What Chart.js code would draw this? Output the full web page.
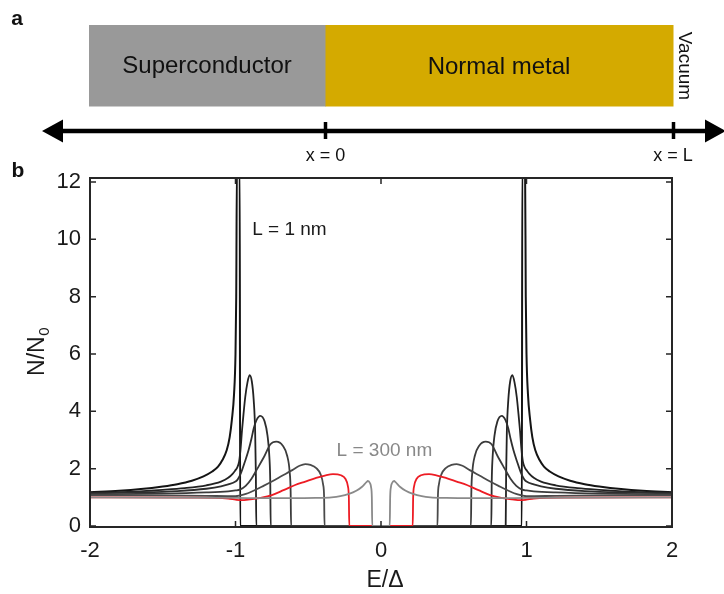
<!DOCTYPE html>
<html>
<head>
<meta charset="utf-8">
<title>N/N0 vs E/Δ</title>
<script src="https://cdn.jsdelivr.net/npm/chart.js@4.4.1/dist/chart.umd.min.js"></script>
<style>
  html, body { margin: 0; padding: 0; background: #fff; }
  #wrap { width: 724px; height: 594px; position: relative; }
</style>
</head>
<body>
<div id="wrap"><canvas id="dosChart"></canvas></div>
<script>
// tick values
const xTicks = [-2, -1, 0, 1, 2];
const yTicks = [0, 2, 4, 6, 8, 10, 12];

// density of states in the normal metal, E >= 0 half, [E/Δ, N/N0]
// (the curves are symmetric in E, the negative half is mirrored below)
const dosL1 = [[0, 0], [0.968, 0], [0.971, 12.6], [0.99, 12.6], [0.995, 8.0], [1.0, 6.0], [1.01, 4.6],
  [1.025, 3.7], [1.04, 3.1], [1.06, 2.65], [1.09, 2.3], [1.12, 2.07], [1.16, 1.9], [1.22, 1.73],
  [1.3, 1.58], [1.4, 1.46], [1.5, 1.38], [1.65, 1.29], [1.8, 1.23], [2.0, 1.18]];
const dosL2 = [[0, 0], [0.857, 0], [0.86, 1.8], [0.865, 3.3], [0.875, 4.4], [0.888, 5.05], [0.903, 5.26],
  [0.918, 5.0], [0.933, 4.5], [0.945, 3.9], [0.955, 3.35], [0.965, 2.7], [0.975, 2.25], [0.99, 2.02],
  [1.0, 1.95], [1.02, 1.82], [1.05, 1.68], [1.1, 1.55], [1.2, 1.42], [1.35, 1.32], [1.5, 1.26],
  [1.7, 1.2], [2.0, 1.16]];
const dosL3 = [[0, 0], [0.758, 0], [0.761, 1.5], [0.767, 2.4], [0.78, 3.15], [0.8, 3.65], [0.83, 3.84],
  [0.855, 3.7], [0.875, 3.4], [0.89, 3.05], [0.91, 2.65], [0.935, 2.25], [0.96, 1.88], [0.985, 1.62],
  [1.0, 1.55], [1.05, 1.45], [1.1, 1.38], [1.2, 1.3], [1.4, 1.22], [1.7, 1.17], [2.0, 1.14]];
const dosL4 = [[0, 0], [0.618, 0], [0.621, 1.2], [0.628, 1.9], [0.645, 2.45], [0.675, 2.8], [0.72, 2.94],
  [0.76, 2.85], [0.8, 2.45], [0.85, 2.0], [0.89, 1.65], [0.93, 1.4], [0.97, 1.27], [1.0, 1.24],
  [1.05, 1.21], [1.2, 1.17], [1.5, 1.13], [2.0, 1.11]];
const dosL5 = [[0, 0], [0.388, 0], [0.391, 1.0], [0.398, 1.45], [0.415, 1.8], [0.445, 2.02], [0.485, 2.13],
  [0.52, 2.16], [0.56, 2.1], [0.61, 1.95], [0.68, 1.75], [0.75, 1.55], [0.82, 1.37], [0.88, 1.22],
  [0.94, 1.1], [1.0, 1.04], [1.2, 1.05], [1.6, 1.07], [2.0, 1.08]];
const dosL6 = [[0, 0], [0.218, 0], [0.221, 1.0], [0.228, 1.4], [0.245, 1.65], [0.275, 1.77], [0.33, 1.81],
  [0.38, 1.77], [0.45, 1.67], [0.52, 1.55], [0.59, 1.43], [0.67, 1.25], [0.75, 1.08], [0.82, 0.99],
  [0.9, 0.93], [0.96, 0.9], [1.0, 0.92], [1.05, 0.96], [1.3, 0.99], [2.0, 1.0]];
const dosL300 = [[0, 0], [0.06, 0], [0.063, 1.0], [0.068, 1.35], [0.076, 1.5], [0.09, 1.57], [0.1, 1.53],
  [0.13, 1.37], [0.17, 1.23], [0.22, 1.12], [0.28, 1.04], [0.34, 1.0], [0.45, 0.98], [0.6, 0.97],
  [0.8, 0.97], [1.0, 0.98], [1.5, 0.99], [2.0, 1.0]];

const curves = [dosL1, dosL2, dosL3, dosL4, dosL5, dosL6, dosL300];
const curveNames = ['L = 1 nm', 'L2', 'L3', 'L4', 'L5', 'L6', 'L = 300 nm'];
const curveColors = ['#141414', '#222222', '#2e2e2e', '#3b3b3b', '#4a4a4a', '#ed1c24', '#8a8a8a'];

const FONT = '"Liberation Sans", Arial, Helvetica, sans-serif';

// full curve from -2 to 2
function mirrored(half) {
  const left = half.filter(p => p[0] > 0).reverse().map(p => ({ x: -p[0], y: p[1] }));
  return left.concat(half.map(p => ({ x: p[0], y: p[1] })));
}

// last curve on top
const datasets = curves.map((c, i) => ({
  label: curveNames[i],
  data: mirrored(c),
  borderColor: curveColors[i],
  borderWidth: i === 0 ? 2 : 1.8,
  pointRadius: 0,
  cubicInterpolationMode: 'monotone',
  fill: false,
  order: curves.length - 1 - i
}));

// panel a: the S / N / vacuum sketch, plus panel letters
const sketch = {
  id: 'sketch',
  beforeDraw(chart) {
    const ctx = chart.ctx;
    ctx.save();
    ctx.fillStyle = '#999999';
    ctx.fillRect(89, 25, 237, 81.5);
    ctx.fillStyle = '#d4aa00';
    ctx.fillRect(325.5, 25, 348, 81.5);

    ctx.fillStyle = '#111';
    ctx.textAlign = 'center';
    ctx.textBaseline = 'middle';
    ctx.font = '24px ' + FONT;
    ctx.fillText('Superconductor', 207, 66);
    ctx.fillText('Normal metal', 499, 67);

    ctx.save();
    ctx.translate(684, 66);
    ctx.rotate(Math.PI / 2);
    ctx.font = '19px ' + FONT;
    ctx.fillText('Vacuum', 0, 0);
    ctx.restore();

    // double arrow with the x = 0 and x = L marks
    ctx.strokeStyle = '#000';
    ctx.lineWidth = 4.5;
    ctx.beginPath();
    ctx.moveTo(58, 131);
    ctx.lineTo(710, 131);
    ctx.stroke();
    ctx.fillStyle = '#000';
    ctx.beginPath();
    ctx.moveTo(42, 131); ctx.lineTo(63, 119.5); ctx.lineTo(63, 142.5); ctx.closePath();
    ctx.moveTo(726, 131); ctx.lineTo(705, 119.5); ctx.lineTo(705, 142.5); ctx.closePath();
    ctx.fill();
    ctx.lineWidth = 3.5;
    ctx.beginPath();
    ctx.moveTo(325.5, 122); ctx.lineTo(325.5, 139);
    ctx.moveTo(673.5, 122); ctx.lineTo(673.5, 139);
    ctx.stroke();

    ctx.fillStyle = '#111';
    ctx.font = '18px ' + FONT;
    ctx.fillText('x = 0', 325.5, 156);
    ctx.fillText('x = L', 673, 156);

    ctx.font = 'bold 21px ' + FONT;
    ctx.fillText('a', 17, 19);
    ctx.fillText('b', 18, 171);
    ctx.restore();
  }
};

// box, inward ticks on all sides, axis titles and curve labels
const frame = {
  id: 'frame',
  afterDatasetsDraw(chart) {
    const { ctx, chartArea: a, scales: { x, y } } = chart;
    ctx.save();
    ctx.strokeStyle = '#262626';
    ctx.lineWidth = 1.5;
    ctx.beginPath();
    xTicks.forEach(v => {
      const px = x.getPixelForValue(v);
      ctx.moveTo(px, a.bottom); ctx.lineTo(px, a.bottom - 6);
      ctx.moveTo(px, a.top); ctx.lineTo(px, a.top + 6);
    });
    yTicks.forEach(v => {
      const py = y.getPixelForValue(v);
      ctx.moveTo(a.left, py); ctx.lineTo(a.left + 6, py);
      ctx.moveTo(a.right, py); ctx.lineTo(a.right - 6, py);
    });
    ctx.stroke();
    ctx.lineWidth = 2;
    ctx.strokeRect(a.left, a.top, a.right - a.left, a.bottom - a.top);

    // curve labels
    ctx.font = '19px ' + FONT;
    ctx.textAlign = 'left';
    ctx.textBaseline = 'alphabetic';
    ctx.fillStyle = '#1a1a1a';
    ctx.fillText('L = 1 nm', x.getPixelForValue(-0.885), y.getPixelForValue(10.15));
    ctx.fillStyle = '#888888';
    ctx.fillText('L = 300 nm', x.getPixelForValue(-0.305), y.getPixelForValue(2.44));

    // x title
    ctx.fillStyle = '#1a1a1a';
    ctx.textAlign = 'center';
    ctx.textBaseline = 'middle';
    ctx.font = '23px ' + FONT;
    ctx.fillText('E/Δ', 385, 581);

    // y title, N/N0 with subscript
    ctx.translate(36, 352);
    ctx.rotate(-Math.PI / 2);
    ctx.textAlign = 'left';
    ctx.textBaseline = 'alphabetic';
    ctx.font = '23px ' + FONT;
    const main = 'N/N';
    const w1 = ctx.measureText(main).width;
    ctx.font = '15px ' + FONT;
    const w2 = ctx.measureText('0').width;
    const u0 = -(w1 + w2) / 2;
    ctx.font = '23px ' + FONT;
    ctx.fillText(main, u0, 8);
    ctx.font = '15px ' + FONT;
    ctx.fillText('0', u0 + w1 + 0.5, 13);
    ctx.restore();
  }
};

new Chart(document.getElementById('dosChart'), {
  type: 'line',
  data: { datasets: datasets },
  options: {
    responsive: true,
    maintainAspectRatio: false,
    animation: false,
    layout: { padding: { left: 0, right: 52, top: 178, bottom: 0 } },
    plugins: { legend: { display: false }, tooltip: { enabled: false } },
    scales: {
      x: {
        type: 'linear',
        min: -2,
        max: 2,
        grid: { display: false, drawTicks: false },
        border: { display: false },
        afterBuildTicks: s => { s.ticks = xTicks.map(v => ({ value: v })); },
        afterFit: s => { s.height = 67; },
        ticks: { padding: 11, color: '#1a1a1a', font: { family: FONT, size: 22 } }
      },
      y: {
        min: -0.035,
        max: 12.14,
        grid: { display: false, drawTicks: false },
        border: { display: false },
        afterBuildTicks: s => { s.ticks = yTicks.map(v => ({ value: v })); },
        afterFit: s => { s.width = 90; },
        ticks: { padding: 9, color: '#1a1a1a', font: { family: FONT, size: 22 } }
      }
    }
  },
  plugins: [sketch, frame]
});
</script>
</body>
</html>
